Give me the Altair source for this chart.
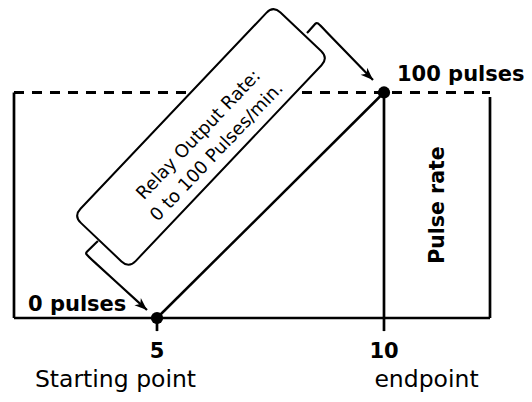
import altair as alt
import pandas as pd

FONT = "DejaVu Sans"

# ---- values (x: time units, y: pulses) ----
point_x = [5, 10]            # starting point, endpoint
point_y = [0, 100]           # 0 pulses, 100 pulses
tick_labels = ["5", "10"]
axis_names = ["Starting point", "endpoint"]
axis_name_x = [4.086, 10.936]
axis_name_y = [-30.6, -30.6]

frame_left, frame_right = 1.85, 12.335
right_top = 98
tick_low = -5.8

bold_texts = ["0 pulses", "100 pulses"]
bold_x = [2.159, 10.286]
bold_y = [3.1, 105.1]

box_lines = "Relay Output Rate:\n0 to 100 Pulses/min."
box_center = (5.969, 80.27)
box_text_center = (5.925, 81.15)

bracket_id = ["top", "top", "top", "top", "low", "low", "low", "low"]
bracket_x = [8.304, 8.524, 8.524, 9.758, 3.700, 3.414, 3.414, 4.780]
bracket_y = [126.4, 131.26, 131.26, 105.54, 34.15, 28.60, 28.60, 3.55]
arrow_x = [9.758, 4.780]
arrow_y = [105.54, 3.55]
arrow_angle = [134, 132]

pulse_rate_pos = (11.19, 50.1)

X = alt.Scale(domain=[1.718, 13.084], nice=False, zero=False)
Y = alt.Scale(domain=[-33.70, 137.47], nice=False, zero=False)


def xe(f="x"):
    return alt.X(f"{f}:Q", scale=X, axis=None)


def ye(f="y"):
    return alt.Y(f"{f}:Q", scale=Y, axis=None)


frame = pd.DataFrame({
    "x": [frame_left, frame_right, frame_left, point_x[0], point_x[1]],
    "x2": [frame_left, frame_right, frame_right, point_x[0], point_x[1]],
    "y": [point_y[0], point_y[0], point_y[0], tick_low, tick_low],
    "y2": [point_y[1], right_top, point_y[0], point_y[0], point_y[1]],
})
frame_layer = alt.Chart(frame).mark_rule(color="black", strokeWidth=2.7).encode(
    x=xe(), x2="x2:Q", y=ye(), y2="y2:Q")

dashed = pd.DataFrame({"x": [frame_left], "x2": [frame_right], "y": [point_y[1]]})
dashed_layer = alt.Chart(dashed).mark_rule(
    color="black", strokeWidth=3, strokeDash=[10, 8]).encode(x=xe(), x2="x2:Q", y=ye())

pts = pd.DataFrame({"x": point_x, "y": point_y})
diag_layer = alt.Chart(pts).mark_line(color="black", strokeWidth=2.5).encode(x=xe(), y=ye())
dots_layer = alt.Chart(pts).mark_circle(color="black", size=150, opacity=1).encode(x=xe(), y=ye())

box_path = ("M-135,-38L135,-38Q145,-38 145,-28L145,28Q145,38 135,38"
            "L-135,38Q-145,38 -145,28L-145,-28Q-145,-38 -135,-38Z")
box = pd.DataFrame({"x": [box_center[0]], "y": [box_center[1]]})
box_layer = alt.Chart(box).mark_point(
    shape=box_path, size=4, angle=313.5, filled=True, fill="white",
    stroke="black", strokeWidth=2, opacity=1, fillOpacity=1).encode(x=xe(), y=ye())

box_text = pd.DataFrame({"x": [box_text_center[0]], "y": [box_text_center[1]], "t": [box_lines]})
box_text_layer = alt.Chart(box_text).mark_text(
    font=FONT, fontSize=18, angle=313.5, lineBreak="\n", lineHeight=25,
    align="center", baseline="middle", color="black").encode(x=xe(), y=ye(), text="t:N")

br = pd.DataFrame({"id": bracket_id, "x": bracket_x, "y": bracket_y,
                   "k": list(range(len(bracket_x)))})
bracket_layer = alt.Chart(br).mark_line(
    color="black", strokeWidth=2.2, interpolate="basis").encode(
    x=xe(), y=ye(), detail="id:N", order="k:Q")

arrow_path = "M0,0L-0.8,2.1L0,1.5L0.8,2.1Z"
arr = pd.DataFrame({"x": arrow_x, "y": arrow_y, "a": arrow_angle})
arrow_layer = alt.Chart(arr).mark_point(
    shape=arrow_path, size=144, filled=True, color="black", opacity=1).encode(
    x=xe(), y=ye(), angle=alt.Angle("a:Q", scale=None))

bold = pd.DataFrame({"x": bold_x, "y": bold_y, "t": bold_texts})
bold_layer = alt.Chart(bold).mark_text(
    font=FONT, fontSize=21, fontWeight="bold", align="left", baseline="alphabetic",
    color="black").encode(x=xe(), y=ye(), text="t:N")

ticks = pd.DataFrame({"x": point_x, "y": [-17.74, -17.74], "t": tick_labels})
tick_layer = alt.Chart(ticks).mark_text(
    font=FONT, fontSize=21, fontWeight="bold", align="center", baseline="alphabetic",
    color="black").encode(x=xe(), y=ye(), text="t:N")

names = pd.DataFrame({"x": axis_name_x, "y": axis_name_y, "t": axis_names})
names_layer = alt.Chart(names).mark_text(
    font=FONT, fontSize=23.5, align="center", baseline="alphabetic",
    color="black").encode(x=xe(), y=ye(), text="t:N")

pr = pd.DataFrame({"x": [pulse_rate_pos[0]], "y": [pulse_rate_pos[1]], "t": ["Pulse rate"]})
pr_layer = alt.Chart(pr).mark_text(
    font=FONT, fontSize=20.5, fontWeight="bold", angle=270, align="center",
    baseline="middle", color="black").encode(x=xe(), y=ye(), text="t:N")

chart = alt.layer(
    dashed_layer, frame_layer, diag_layer, bracket_layer, box_layer, box_text_layer,
    arrow_layer, dots_layer, bold_layer, tick_layer, names_layer, pr_layer
).properties(
    width=516, height=386, autosize=alt.AutoSizeParams(type="none"), padding=0,
    background="white"
).configure_view(stroke=None)

chart.save("out.html", embed_options={"renderer": "svg", "actions": False})
